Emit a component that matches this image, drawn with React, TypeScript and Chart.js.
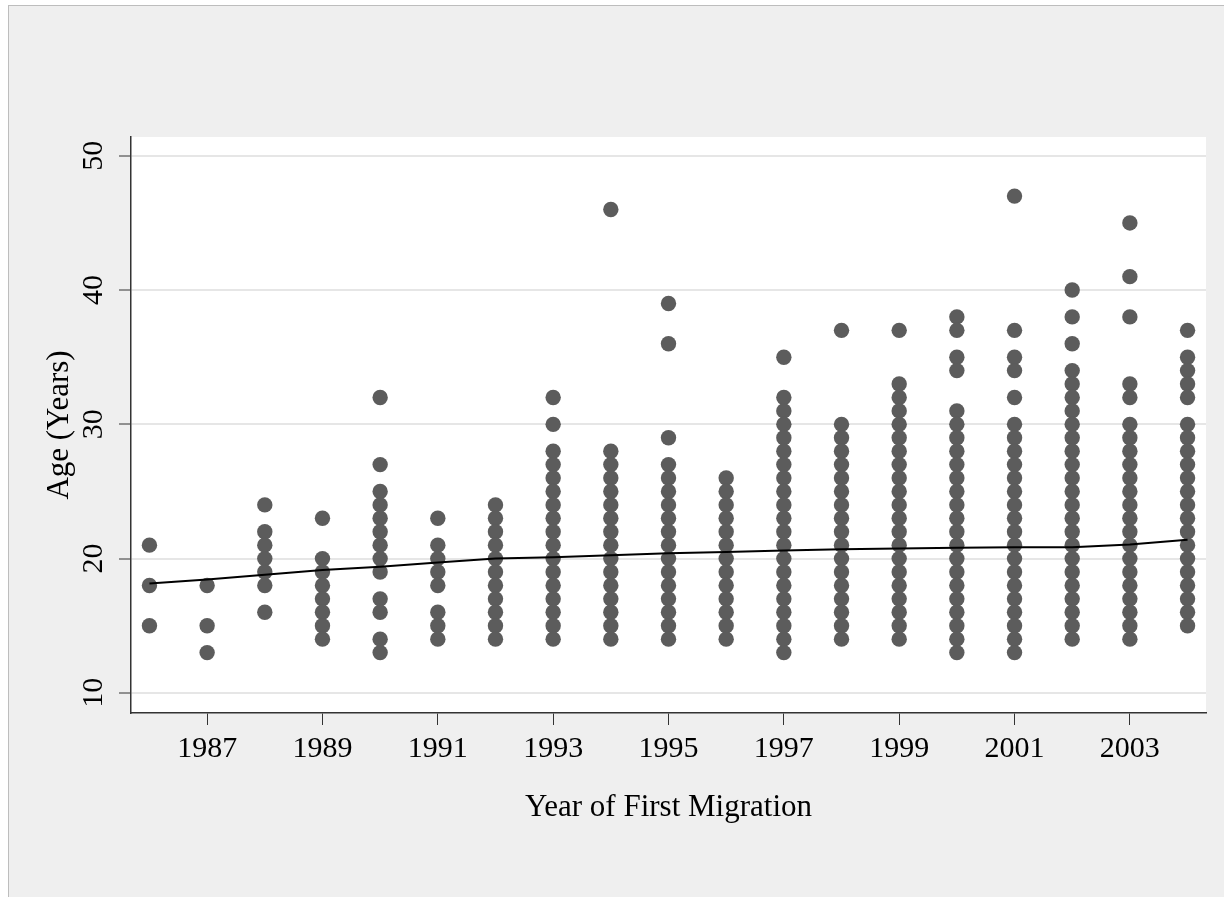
import React, { useEffect, useRef } from "react";
import { Chart, registerables } from "chart.js";

Chart.register(...registerables);

const years = [1986, 1987, 1988, 1989, 1990, 1991, 1992, 1993, 1994, 1995, 1996, 1997, 1998, 1999, 2000, 2001, 2002, 2003, 2004];

const ages1986 = [21, 18, 15];
const ages1987 = [18, 15, 13];
const ages1988 = [24, 22, 21, 20, 19, 18, 16];
const ages1989 = [23, 20, 19, 18, 17, 16, 15, 14];
const ages1990 = [32, 27, 25, 24, 23, 22, 21, 20, 19, 17, 16, 14, 13];
const ages1991 = [23, 21, 20, 19, 18, 16, 15, 14];
const ages1992 = [24, 23, 22, 21, 20, 19, 18, 17, 16, 15, 14];
const ages1993 = [32, 30, 28, 27, 26, 25, 24, 23, 22, 21, 20, 19, 18, 17, 16, 15, 14];
const ages1994 = [46, 28, 27, 26, 25, 24, 23, 22, 21, 20, 19, 18, 17, 16, 15, 14];
const ages1995 = [39, 36, 29, 27, 26, 25, 24, 23, 22, 21, 20, 19, 18, 17, 16, 15, 14];
const ages1996 = [26, 25, 24, 23, 22, 21, 20, 19, 18, 17, 16, 15, 14];
const ages1997 = [35, 32, 31, 30, 29, 28, 27, 26, 25, 24, 23, 22, 21, 20, 19, 18, 17, 16, 15, 14, 13];
const ages1998 = [37, 30, 29, 28, 27, 26, 25, 24, 23, 22, 21, 20, 19, 18, 17, 16, 15, 14];
const ages1999 = [37, 33, 32, 31, 30, 29, 28, 27, 26, 25, 24, 23, 22, 21, 20, 19, 18, 17, 16, 15, 14];
const ages2000 = [38, 37, 35, 34, 31, 30, 29, 28, 27, 26, 25, 24, 23, 22, 21, 20, 19, 18, 17, 16, 15, 14, 13];
const ages2001 = [47, 37, 35, 34, 32, 30, 29, 28, 27, 26, 25, 24, 23, 22, 21, 20, 19, 18, 17, 16, 15, 14, 13];
const ages2002 = [40, 38, 36, 34, 33, 32, 31, 30, 29, 28, 27, 26, 25, 24, 23, 22, 21, 20, 19, 18, 17, 16, 15, 14];
const ages2003 = [45, 41, 38, 33, 32, 30, 29, 28, 27, 26, 25, 24, 23, 22, 21, 20, 19, 18, 17, 16, 15, 14];
const ages2004 = [37, 35, 34, 33, 32, 30, 29, 28, 27, 26, 25, 24, 23, 22, 21, 20, 19, 18, 17, 16, 15];

const agesByYear = [
  ages1986, ages1987, ages1988, ages1989, ages1990, ages1991, ages1992, ages1993, ages1994, ages1995,
  ages1996, ages1997, ages1998, ages1999, ages2000, ages2001, ages2002, ages2003, ages2004,
];

const fittedAge = [18.15, 18.45, 18.8, 19.15, 19.4, 19.7, 20.0, 20.1, 20.25, 20.4, 20.5, 20.6, 20.7, 20.75, 20.8, 20.85, 20.85, 21.05, 21.4];

const xTickYears = [1987, 1989, 1991, 1993, 1995, 1997, 1999, 2001, 2003];
const yTickValues = [10, 20, 30, 40, 50];

const FONT = "'Liberation Serif', 'Times New Roman', serif";

export default function App() {
  const canvasRef = useRef<HTMLCanvasElement | null>(null);

  useEffect(() => {
    const canvas = canvasRef.current;
    if (!canvas) return;

    const points: { x: number; y: number }[] = [];
    years.forEach((yr, i) => {
      agesByYear[i].forEach((a) => points.push({ x: yr, y: a }));
    });
    const fitPoints = years.map((yr, i) => ({ x: yr, y: fittedAge[i] }));

    const plotBg = {
      id: "plotBg",
      beforeDraw(chart: any) {
        const { ctx, chartArea } = chart;
        ctx.save();
        ctx.fillStyle = "#ffffff";
        ctx.fillRect(chartArea.left, chartArea.top, chartArea.right - chartArea.left, chartArea.bottom - chartArea.top);
        ctx.restore();
      },
    };

    const chart = new Chart(canvas, {
      type: "scatter",
      data: {
        datasets: [
          {
            label: "Fitted",
            data: fitPoints,
            showLine: true,
            borderColor: "#000000",
            borderWidth: 2,
            pointRadius: 0,
            order: 0,
          } as any,
          {
            label: "Age",
            data: points,
            backgroundColor: "#5c5c5c",
            borderWidth: 0,
            pointRadius: 7.7,
            pointStyle: "circle",
            order: 1,
          },
        ],
      },
      options: {
        responsive: false,
        animation: false,
        layout: { padding: { top: 137, right: 18, bottom: 0, left: 0 } },
        plugins: {
          legend: { display: false },
          tooltip: { enabled: false },
        },
        scales: {
          x: {
            type: "linear",
            min: 1985.68,
            max: 2004.32,
            afterBuildTicks: (scale: any) => {
              scale.ticks = xTickYears.map((v) => ({ value: v }));
            },
            afterFit: (scale: any) => {
              scale.height = 184;
            },
            grid: {
              drawOnChartArea: false,
              drawTicks: true,
              tickLength: 12,
              tickColor: "#333333",
              tickWidth: 1,
            },
            border: { display: true, color: "#333333", width: 1.5 },
            ticks: {
              autoSkip: false,
              maxRotation: 0,
              padding: 6,
              color: "#000000",
              font: { family: FONT, size: 30 },
              callback: (v: any) => String(v),
            },
            title: {
              display: true,
              text: "Year of First Migration",
              color: "#000000",
              font: { family: FONT, size: 31 },
              padding: { top: 0, bottom: 71 },
            },
          },
          y: {
            type: "linear",
            min: 8.5,
            max: 51.4,
            afterBuildTicks: (scale: any) => {
              scale.ticks = yTickValues.map((v) => ({ value: v }));
            },
            afterFit: (scale: any) => {
              scale.width = 131;
            },
            grid: {
              drawOnChartArea: true,
              color: "#e6e6e6",
              lineWidth: 2,
              drawTicks: true,
              tickLength: 12,
              tickColor: "#333333",
              tickWidth: 1,
            },
            border: { display: true, color: "#333333", width: 1.5 },
            ticks: {
              minRotation: 90,
              maxRotation: 90,
              crossAlign: "center",
              padding: 10,
              color: "#000000",
              font: { family: FONT, size: 30 },
              callback: (v: any) => String(v),
            },
            title: {
              display: true,
              text: "Age (Years)",
              color: "#000000",
              font: { family: FONT, size: 31 },
              padding: { top: 41, bottom: 0 },
            },
          },
        },
      },
      plugins: [plotBg],
    });

    return () => chart.destroy();
  }, []);

  return (
    <div style={{ position: "fixed", left: 0, top: 0, width: 1224, height: 897, background: "#ffffff", overflow: "hidden" }}>
      <div
        style={{
          position: "absolute",
          left: 8,
          top: 5,
          width: 1230,
          height: 900,
          background: "#efefef",
          borderLeft: "1px solid #bdbdbd",
          borderTop: "1px solid #bdbdbd",
        }}
      />
      <canvas ref={canvasRef} width={1224} height={897} style={{ position: "absolute", left: 0, top: 0, width: 1224, height: 897 }} />
    </div>
  );
}
